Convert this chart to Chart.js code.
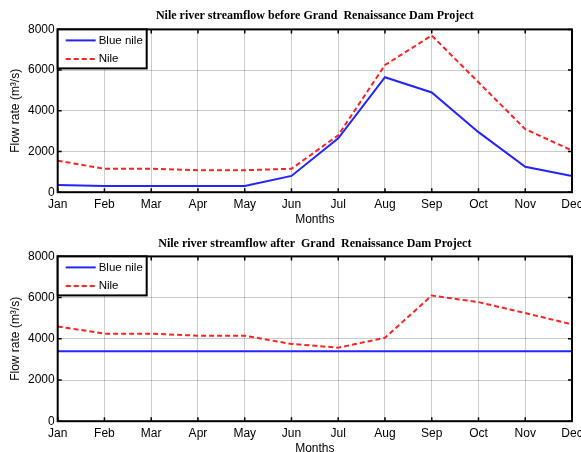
<!DOCTYPE html>
<html>
<head>
<meta charset="utf-8">
<script src="https://cdn.jsdelivr.net/npm/chart.js@4.4.0/dist/chart.umd.min.js"></script>
<style>
    html, body { margin: 0; padding: 0; background: #fff; overflow: hidden; }
    .wrap { width: 592px; position: relative; }
    #wrapBefore { height: 227px; }
    #wrapAfter { height: 229px; }
</style>
</head>
<body>
<div class="wrap" id="wrapBefore"><canvas id="before"></canvas></div>
<div class="wrap" id="wrapAfter"><canvas id="after"></canvas></div>
<script>
// values (m3/s)
const months = ["Jan", "Feb", "Mar", "Apr", "May", "Jun", "Jul", "Aug", "Sep", "Oct", "Nov", "Dec"];
const blueNileBefore = [350, 300, 300, 300, 300, 800, 2650, 5650, 4900, 2950, 1250, 800];
const nileBefore = [1550, 1150, 1150, 1080, 1080, 1150, 2800, 6250, 7700, 5400, 3100, 2050];
const blueNileAfter = [3400, 3400, 3400, 3400, 3400, 3400, 3400, 3400, 3400, 3400, 3400, 3400];
const nileAfter = [4600, 4250, 4250, 4150, 4150, 3750, 3570, 4050, 6100, 5780, 5250, 4700];
const seriesNames = ["Blue nile", "Nile"];
const yMin = 0;
const yMax = 8000;
const yStep = 2000;

const sans = "'Liberation Sans', Arial, sans-serif";
const serif = "'Liberation Serif', 'Times New Roman', serif";

// matlab style box: frame, inward ticks and a legend inside the top left corner
const matlabBox = {
    id: "matlabBox",
    afterDatasetsDraw(chart) {
        const ctx = chart.ctx;
        const area = chart.chartArea;
        const xs = chart.scales.x;
        const ys = chart.scales.y;
        ctx.save();
        ctx.strokeStyle = "#000";
        ctx.lineWidth = 1.5;
        ctx.beginPath();
        xs.ticks.forEach(function (t, i) {
            const px = xs.getPixelForTick(i);
            ctx.moveTo(px, area.bottom);
            ctx.lineTo(px, area.bottom - 4);
            ctx.moveTo(px, area.top);
            ctx.lineTo(px, area.top + 4);
        });
        ys.ticks.forEach(function (t) {
            const py = ys.getPixelForValue(t.value);
            ctx.moveTo(area.left, py);
            ctx.lineTo(area.left + 4, py);
            ctx.moveTo(area.right, py);
            ctx.lineTo(area.right - 4, py);
        });
        ctx.stroke();
        ctx.lineWidth = 2;
        ctx.strokeRect(area.left, area.top, area.right - area.left, area.bottom - area.top);

        // legend
        const lx = area.left;
        const ly = area.top;
        const lw = 89;
        const lh = 39;
        ctx.fillStyle = "#fff";
        ctx.fillRect(lx, ly, lw, lh);
        ctx.lineWidth = 2;
        ctx.strokeStyle = "#000";
        ctx.strokeRect(lx, ly, lw, lh);
        ctx.font = "11.5px " + sans;
        ctx.textBaseline = "middle";
        chart.data.datasets.forEach(function (ds, i) {
            const rowY = ly + 11 + i * 18.5;
            ctx.beginPath();
            ctx.strokeStyle = ds.borderColor;
            ctx.lineWidth = ds.borderWidth;
            ctx.setLineDash(ds.borderDash || []);
            ctx.moveTo(lx + 8, rowY);
            ctx.lineTo(lx + 38, rowY);
            ctx.stroke();
            ctx.setLineDash([]);
            ctx.fillStyle = "#000";
            ctx.fillText(ds.label, lx + 41, rowY);
        });
        ctx.restore();
    }
};

function makeChart(canvasId, titleText, blue, nile, titlePad) {
    return new Chart(document.getElementById(canvasId), {
        type: "line",
        data: {
            labels: months,
            datasets: [
                {
                    label: seriesNames[0],
                    data: blue,
                    borderColor: "#2424ff",
                    borderWidth: 2,
                    pointRadius: 0,
                    tension: 0
                },
                {
                    label: seriesNames[1],
                    data: nile,
                    borderColor: "#ff2222",
                    borderWidth: 2,
                    borderDash: [5, 3],
                    pointRadius: 0,
                    tension: 0
                }
            ]
        },
        options: {
            responsive: true,
            maintainAspectRatio: false,
            animation: false,
            layout: {
                padding: { left: 0, right: 20, top: 0, bottom: 0 }
            },
            plugins: {
                legend: { display: false },
                tooltip: { enabled: false },
                title: {
                    display: true,
                    text: titleText,
                    color: "#000",
                    fullSize: false,
                    font: { family: serif, size: 12, weight: "bold" },
                    padding: titlePad
                }
            },
            scales: {
                x: {
                    offset: false,
                    grid: { color: "rgba(0,0,0,0.2)", drawTicks: false, tickLength: 0 },
                    border: { display: false },
                    ticks: {
                        color: "#000",
                        padding: 5,
                        maxRotation: 0,
                        autoSkip: false,
                        font: { family: sans, size: 12 }
                    },
                    title: {
                        display: true,
                        text: "Months",
                        color: "#000",
                        font: { family: sans, size: 12 },
                        padding: { top: -4, bottom: 0 }
                    }
                },
                y: {
                    min: yMin,
                    max: yMax,
                    grid: { color: "rgba(0,0,0,0.2)", drawTicks: false, tickLength: 0 },
                    border: { display: false },
                    ticks: {
                        stepSize: yStep,
                        color: "#000",
                        padding: 3,
                        font: { family: sans, size: 12 },
                        callback: function (value) {
                            return String(value);
                        }
                    },
                    title: {
                        display: true,
                        text: "Flow rate (m\u00b3/s)",
                        color: "#000",
                        font: { family: sans, size: 12 },
                        padding: { top: 8, bottom: 2.6 }
                    }
                }
            }
        },
        plugins: [matlabBox]
    });
}

document.addEventListener("DOMContentLoaded", function () {
    makeChart("before", "Nile river streamflow before Grand  Renaissance Dam Project",
        blueNileBefore, nileBefore, { top: 9, bottom: 6 });
    makeChart("after", "Nile river streamflow after  Grand  Renaissance Dam Project",
        blueNileAfter, nileAfter, { top: 10, bottom: 5 });
});
</script>
</body>
</html>
